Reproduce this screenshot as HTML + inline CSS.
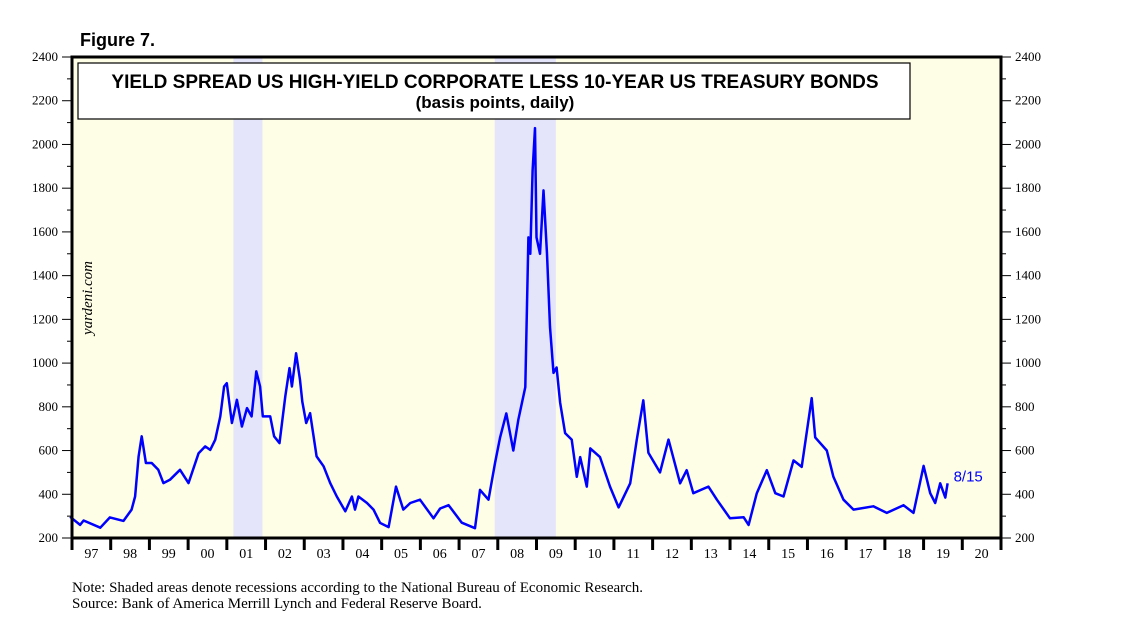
<!DOCTYPE html>
<html><head><meta charset="utf-8"><style>
body{margin:0;background:#fff;width:1138px;height:621px;overflow:hidden}
svg{display:block}
</style></head><body>
<svg id="chart" width="1138" height="621" xmlns="http://www.w3.org/2000/svg">
<text x="80" y="46" font-family="Liberation Sans, sans-serif" font-weight="bold" font-size="18">Figure 7.</text>
<g id="plot"></g>
<text x="72" y="592" font-family="Liberation Serif, serif" font-size="15">Note: Shaded areas denote recessions according to the National Bureau of Economic Research.</text>
<text x="72" y="608" font-family="Liberation Serif, serif" font-size="15">Source: Bank of America Merrill Lynch and Federal Reserve Board.</text>
</svg>
<script>
const dates=[1996.95,1997.21,1997.3,1997.73,1997.98,1998.33,1998.54,1998.63,1998.72,1998.8,1998.91,1999.06,1999.23,1999.36,1999.53,1999.79,2000.01,2000.27,2000.44,2000.57,2000.7,2000.83,2000.93,2001.0,2001.13,2001.26,2001.39,2001.52,2001.64,2001.76,2001.86,2001.93,2002.12,2002.22,2002.36,2002.51,2002.62,2002.68,2002.79,2002.89,2002.95,2003.05,2003.15,2003.32,2003.5,2003.67,2003.84,2004.06,2004.23,2004.31,2004.4,2004.62,2004.79,2004.96,2005.18,2005.37,2005.56,2005.74,2005.99,2006.34,2006.51,2006.73,2007.07,2007.41,2007.54,2007.76,2007.93,2008.06,2008.22,2008.4,2008.53,2008.71,2008.79,2008.84,2008.9,2008.96,2009.0,2009.09,2009.18,2009.27,2009.35,2009.44,2009.52,2009.61,2009.74,2009.91,2010.04,2010.13,2010.3,2010.39,2010.64,2010.9,2011.12,2011.42,2011.59,2011.76,2011.89,2012.19,2012.41,2012.71,2012.88,2013.05,2013.44,2013.66,2014.0,2014.35,2014.48,2014.69,2014.95,2015.17,2015.38,2015.64,2015.85,2016.11,2016.2,2016.5,2016.67,2016.93,2017.19,2017.7,2018.05,2018.48,2018.74,2019.0,2019.17,2019.3,2019.43,2019.56,2019.62];
const values=[297,260,280,247,294,278,330,390,573,665,543,543,512,451,466,512,451,588,619,603,649,756,893,908,726,832,710,794,756,962,893,756,756,665,634,848,977,893,1045,923,824,726,771,573,528,451,390,322,390,330,390,360,330,269,250,435,330,360,375,290,335,350,270,245,420,375,545,660,770,600,740,890,1575,1500,1880,2075,1575,1500,1790,1500,1165,955,980,820,680,650,480,570,435,610,570,435,340,450,650,830,590,500,650,450,510,405,435,375,290,295,260,405,510,405,390,555,525,840,660,600,480,375,330,345,315,350,315,530,405,360,450,385,450];
const recessions=[[2001.17,2001.92],[2007.92,2009.5]];
const yTicks=[200,400,600,800,1000,1200,1400,1600,1800,2000,2200,2400];
const yearLabels=["97","98","99","00","01","02","03","04","05","06","07","08","09","10","11","12","13","14","15","16","17","18","19","20"];
const endLabel="8/15";

const L=72,R=1001,T=57,B=538,x0=1997,x1=2021,v0=200,v1=2400;
const X=d=>L+(d-x0)/(x1-x0)*(R-L);
const Y=v=>B-(v-v0)/(v1-v0)*(B-T);
const NS="http://www.w3.org/2000/svg";
const g=document.getElementById('plot');
function mk(t,a,p){const e=document.createElementNS(NS,t);for(const k in a)e.setAttribute(k,a[k]);(p||g).appendChild(e);return e;}

let bg=mk('rect',{x:L,y:T,width:R-L,height:B-T,fill:'#fefee6'});


recessions.forEach(r=>{
  const e=mk('rect',{x:X(r[0]),y:T,width:X(r[1])-X(r[0]),height:B-T,fill:'#e4e4fa'});
  
  
});
let tb=mk('rect',{x:78,y:63,width:832,height:56,fill:'#fff',stroke:'#000','stroke-width':1.2});


let t1=mk('text',{x:495,y:88,'text-anchor':'middle','font-family':'Liberation Sans, sans-serif','font-weight':'bold','font-size':19});
t1.textContent='YIELD SPREAD US HIGH-YIELD CORPORATE LESS 10-YEAR US TREASURY BONDS';


let t2=mk('text',{x:495,y:108,'text-anchor':'middle','font-family':'Liberation Sans, sans-serif','font-weight':'bold','font-size':17});
t2.textContent='(basis points, daily)';


let wm=mk('text',{transform:'translate(92,298) rotate(-90)','text-anchor':'middle','font-family':'Liberation Serif, serif','font-style':'italic','font-size':15});
wm.textContent='yardeni.com';



let d='';dates.forEach((t,i)=>{d+=(i?'L':'M')+X(t).toFixed(1)+','+Y(values[i]).toFixed(1);});
let ln=mk('path',{d:d,fill:'none',stroke:'#0000ff','stroke-width':2.5,'stroke-linejoin':'round'});


let el=mk('text',{x:X(dates[dates.length-1])+6,y:Y(values[values.length-1])-2,'font-family':'Liberation Sans, sans-serif','font-size':15,fill:'#0000ff'});
el.textContent=endLabel;



yTicks.forEach((v,i)=>{
  const y=Y(v);
  mk('line',{x1:L-10,x2:L,y1:y,y2:y,stroke:'#000','stroke-width':1});
  mk('line',{x1:R,x2:R+10,y1:y,y2:y,stroke:'#000','stroke-width':1});
  if(i<yTicks.length-1){const ym=Y(v+100);
    mk('line',{x1:L-5,x2:L,y1:ym,y2:ym,stroke:'#000','stroke-width':1});
    mk('line',{x1:R,x2:R+5,y1:ym,y2:ym,stroke:'#000','stroke-width':1});}
  const a=mk('text',{x:L-14,y:y+4,'text-anchor':'end','font-family':'Liberation Serif, serif','font-size':13});
  a.textContent=v;
  
  
  const b=mk('text',{x:R+14,y:y+4,'font-family':'Liberation Serif, serif','font-size':13});
  b.textContent=v;
  
  
});
yearLabels.forEach((s,i)=>{
  const x=X(x0+i);
  mk('line',{x1:x,x2:x,y1:B,y2:B+12,stroke:'#000','stroke-width':3});
  const a=mk('text',{x:X(x0+i+0.5),y:B+20,'text-anchor':'middle','font-family':'Liberation Serif, serif','font-size':14});
  a.textContent=s;
  
  
});
mk('line',{x1:R,x2:R,y1:B,y2:B+12,stroke:'#000','stroke-width':3});
let fr=mk('rect',{x:L,y:T,width:R-L,height:B-T,fill:'none',stroke:'#000','stroke-width':3});


</script>
</body></html>
